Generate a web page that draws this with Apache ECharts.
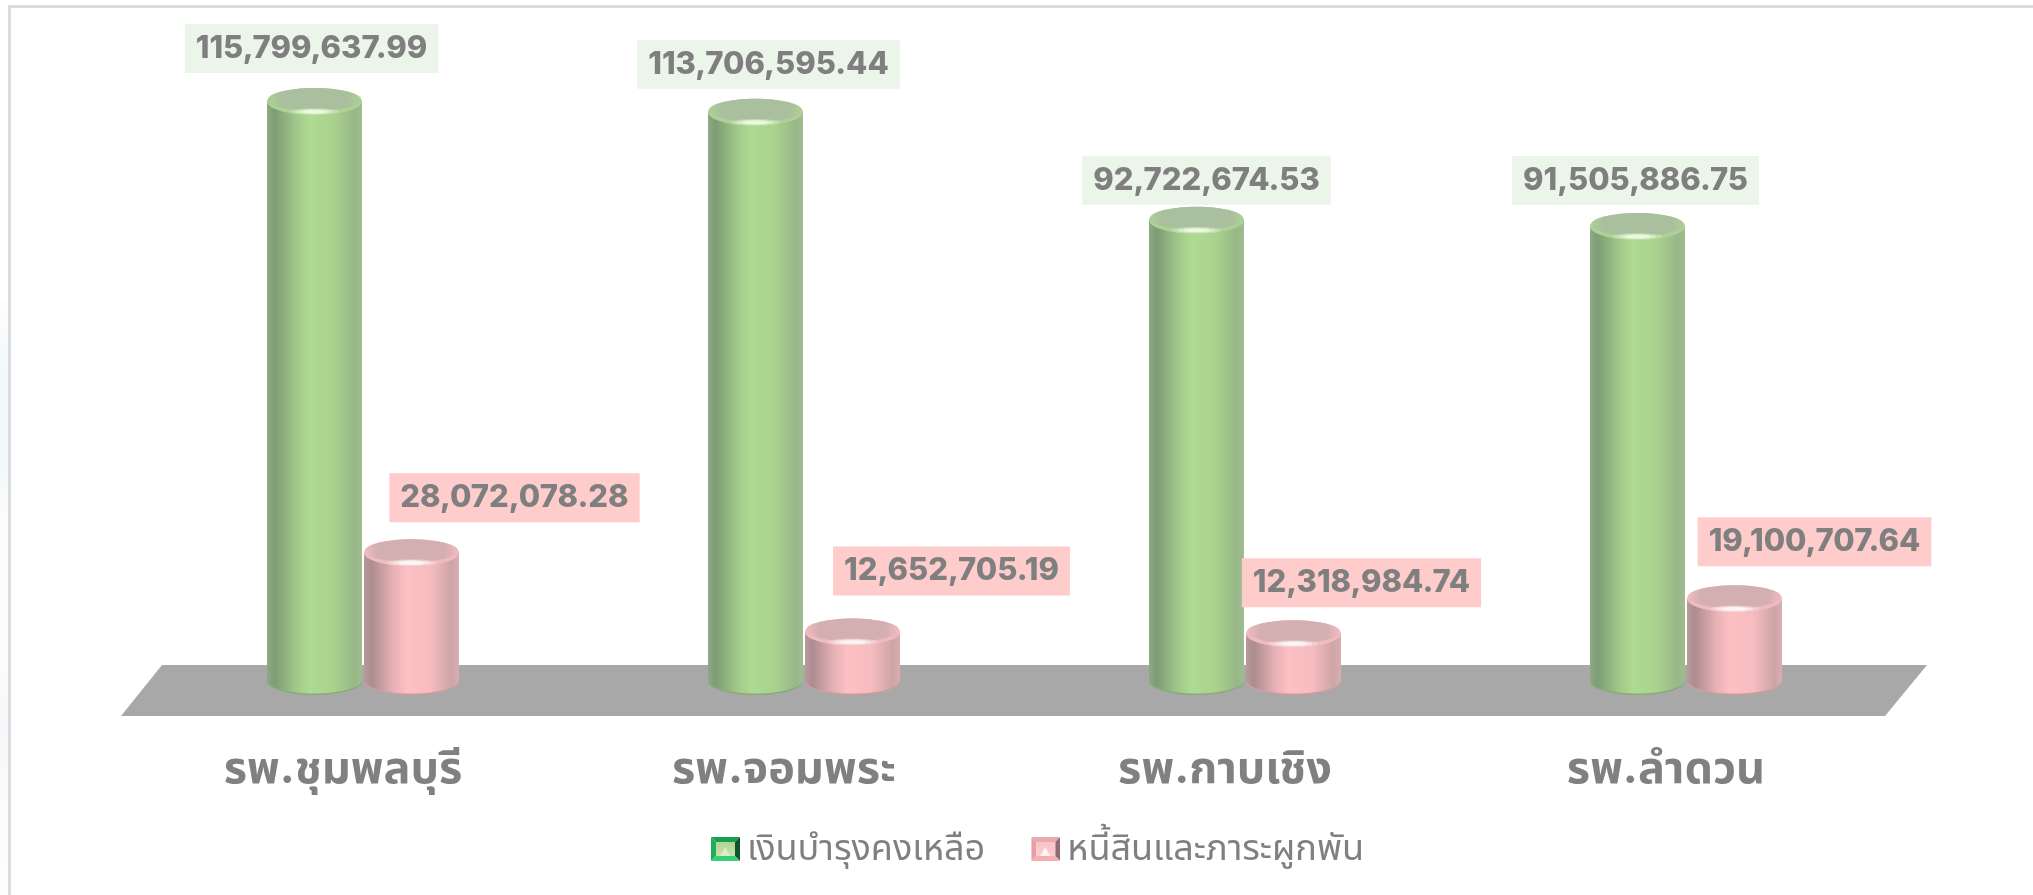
<!DOCTYPE html>
<html><head><meta charset="utf-8">
<style>html,body{margin:0;padding:0;background:#fff;overflow:hidden}
#tint{position:absolute;left:0;top:300px;width:8px;height:595px;background:linear-gradient(#fdfdfd 0,#f3f8fb 12%,#f3f8fb 27%,#fbfbfc 37%,#fcfcfc 60%,#f6f7fa 72%,#fbfbfc 85%,#fdfdfd 100%)}
#frame{position:absolute;left:8px;top:5px;right:0;bottom:0;border-left:3.5px solid #dcdcdc;border-top:3px solid #dcdcdc}
#c{position:absolute;left:0;top:0;width:2033px;height:895px}</style>
<script src="https://cdn.jsdelivr.net/npm/echarts@6/dist/echarts.min.js"></script>
</head><body><div id="tint"></div><div id="frame"></div><div id="c"></div>
<script>
const categories = ['รพ.ชุมพลบุรี', 'รพ.จอมพระ', 'รพ.กาบเชิง', 'รพ.ลำดวน'];
const seriesNames = ['เงินบำรุงคงเหลือ', 'หนี้สินและภาระผูกพัน'];
const reserveValues = [115799637.99, 113706595.44, 92722674.53, 91505886.75];
const debtValues = [28072078.28, 12652705.19, 12318984.74, 19100707.64];
// label box placement relative to the top of each bar [dx, dy]
const reserveLabelShift = [[-3, -53], [13, -48], [10, -40], [-2, -46]];
const debtLabelShift = [[103, -55], [99, -61], [68, -51], [80, -57]];

const FONT = 'Inter, "Noto Sans", "Noto Sans Thai", "Noto Sans CJK SC", sans-serif';
const W = 95, GAP = 2, RY = 13.5;
const palette = {
  green: {body: [[0,'#8CAA84'],[0.08,'#7D9D75'],[0.3,'#A0C689'],[0.45,'#AFDA92'],[0.7,'#AAD28E'],[0.92,'#98B788'],[1,'#A0BC90']],
          cap: '#A9BF9E', rim: '#ADD095', base: '#86AB79', glow: 'rgba(240,253,226,', label: '#ECF5E9'},
  pink:  {body: [[0,'#B89A9C'],[0.08,'#AB8C8F'],[0.3,'#E6B0B4'],[0.45,'#FDC0C4'],[0.7,'#F6BCC0'],[0.92,'#CFA4A7'],[1,'#D8AEB0']],
          cap: '#D4AFB2', rim: '#F0BBBF', base: '#CE9DA0', glow: 'rgba(255,250,250,', label: '#FFCCCC'}
};
function money(v){return v.toLocaleString('en-US',{minimumFractionDigits:2,maximumFractionDigits:2});}
function hGrad(stops){return new echarts.graphic.LinearGradient(0,0,1,0,stops.map(s=>({offset:s[0],color:s[1]})));}
function capGrad(a,b){return new echarts.graphic.LinearGradient(0,0,1,0,[{offset:0,color:b},{offset:0.14,color:a},{offset:0.86,color:a},{offset:1,color:b}]);}

function cylinder(side, pal, shifts){
  return function(params, api){
    const i = api.value(0), v = api.value(1);
    const c = api.coord([i, v]);
    const zero = api.coord([i, 0]);
    const cx = c[0] + side*(W+GAP)/2;
    const top = c[1], base = zero[1]-2-RY;
    const s = shifts[i];
    const lip = top+RY-3.5;
    return {type:'group', children:[
      {type:'ellipse', shape:{cx, cy:base, rx:W/2, ry:RY}, style:{fill:pal.base}},
      {type:'ellipse', shape:{cx, cy:base-1.5, rx:W/2, ry:RY}, style:{fill:hGrad(pal.body)}},
      {type:'rect', shape:{x:cx-W/2, y:top, width:W, height:base-top-1}, style:{fill:hGrad(pal.body)}},
      {type:'ellipse', shape:{cx, cy:top, rx:W/2, ry:RY}, style:{fill:pal.rim}},
      {type:'ellipse', shape:{cx, cy:top-2, rx:W/2-1, ry:RY-2}, style:{fill:capGrad(pal.cap,pal.rim)}},
      {type:'ellipse', shape:{cx, cy:lip, rx:25, ry:3.4}, style:{fill:pal.glow+'0.3)'}},
      {type:'ellipse', shape:{cx, cy:lip, rx:19, ry:2.6}, style:{fill:pal.glow+'0.5)'}},
      {type:'ellipse', shape:{cx, cy:lip, rx:13, ry:1.8}, style:{fill:pal.glow+'0.75)'}},
      {type:'text', z2:10, style:{x:cx+s[0], y:top+s[1], text:money(v), align:'center', verticalAlign:'middle',
        fill:'#7F7F7F', font:'800 31px '+FONT, backgroundColor:pal.label, padding:[9,11,9,11]}}
    ]};
  };
}
function icon(t, l, r, b, mid1, mid2, hi){
  const svg = `<svg xmlns="http://www.w3.org/2000/svg" width="29" height="24"><defs><linearGradient id="g" x1="0" y1="0" x2="0" y2="1"><stop offset="0" stop-color="${mid1}"/><stop offset="1" stop-color="${mid2}"/></linearGradient></defs><polygon points="0,0 29,0 24,5 5,5" fill="${t}"/><polygon points="0,0 5,5 5,19 0,24" fill="${l}"/><polygon points="29,0 24,5 24,19 29,24" fill="${r}"/><polygon points="0,24 5,19 24,19 29,24" fill="${b}"/><rect x="5" y="5" width="19" height="14" fill="url(#g)"/><polygon points="14,10 19,19 9,19" fill="${hi}"/></svg>`;
  return 'image://data:image/svg+xml;charset=utf-8,'+encodeURIComponent(svg);
}
const chart = echarts.init(document.getElementById('c'));
chart.setOption({
  animation:false,
  graphic:[{type:'polygon', z:-1, shape:{points:[[162,665],[1927,665],[1885,716],[121,716]]}, style:{fill:'#A9A8A9'}}],
  grid:{left:142.5, width:1764, top:80, height:617},
  legend:{top:826, left:706, itemWidth:29, itemHeight:24, itemGap:46,
    textStyle:{color:'#808080', fontSize:36, fontFamily:FONT, padding:[0,0,8,2]},
    data:[{name:seriesNames[0], icon:icon('#17A04F','#1FAE5A','#0C552A','#35D075','#B2D396','#C9E1AC','#DDEBC9')},
          {name:seriesNames[1], icon:icon('#E8A9AE','#E4A0A6','#8F6C71','#F6AEB3','#FBC2C6','#FCCDD0','#FFF4F4')}]},
  xAxis:{type:'category', data:categories, axisLine:{show:false}, axisTick:{show:false},
    axisLabel:{color:'#808080', fontSize:45, fontWeight:700, fontFamily:FONT, margin:50, padding:[0,40,0,0], interval:0}},
  yAxis:{type:'value', min:0, max:120000000, show:false},
  series:[
    {name:seriesNames[0], type:'custom', renderItem:cylinder(-1,palette.green,reserveLabelShift),
     encode:{x:0,y:1}, itemStyle:{color:'#AFDA92'}, data:reserveValues.map((v,i)=>[i,v])},
    {name:seriesNames[1], type:'custom', renderItem:cylinder(1,palette.pink,debtLabelShift),
     encode:{x:0,y:1}, itemStyle:{color:'#FDC0C4'}, data:debtValues.map((v,i)=>[i,v])}
  ]
});
</script></body></html>
